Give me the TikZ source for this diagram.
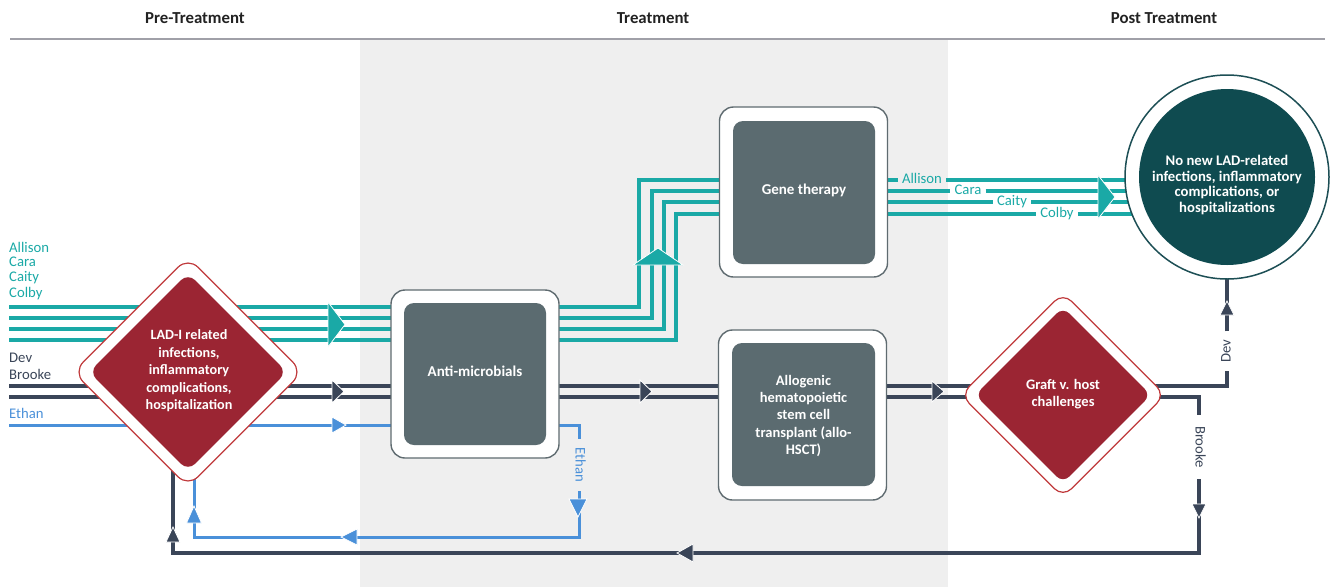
\documentclass[tikz,border=0pt]{standalone}
\usepackage{fontspec}
\setmainfont{Carlito}
\usetikzlibrary{shapes.geometric,calc}
\definecolor{tealc}{HTML}{1AA9A6}
\definecolor{navy}{HTML}{3A4558}
\definecolor{bluec}{HTML}{4A90D9}
\definecolor{slate}{HTML}{5B6B70}
\definecolor{boxedge}{HTML}{5F6B70}
\definecolor{redfill}{HTML}{9B2533}
\definecolor{rededge}{HTML}{C0393B}
\definecolor{bgc}{HTML}{EFEFEF}
\definecolor{circfill}{HTML}{0F4B50}
\definecolor{circedge}{HTML}{1D4F55}
\definecolor{hdrc}{HTML}{222222}
\definecolor{hdrline}{HTML}{A0A0A8}
\pgfdeclarelayer{bg}
\pgfdeclarelayer{ln}
\pgfsetlayers{bg,ln,main}
\begin{document}
\begin{tikzpicture}[x=1pt,y=-1pt,
  every node/.style={inner sep=0pt},
  tline/.style={draw=tealc,line width=3.2pt},
  dline/.style={draw=navy,line width=3.2pt},
  bline/.style={draw=bluec,line width=3pt},
  obox/.style={draw=boxedge,line width=1.4pt,fill=white,rounded corners=14pt,minimum width=168pt,minimum height=168pt},
  ibox/.style={fill=slate,rounded corners=10pt,minimum width=142pt,minimum height=142pt},
  wtext/.style={text=white,font=\bfseries\fontsize{14.5}{17.5}\selectfont,align=center},
  odiam/.style={diamond,aspect=1,draw=rededge,line width=1.2pt,fill=white},
  idiam/.style={diamond,aspect=1,fill=redfill},
  arr/.style={draw=white,line width=0.8pt},
  pname/.style={font=\fontsize{14.7}{16}\selectfont,anchor=west},
  lab/.style={font=\fontsize{14.7}{16}\selectfont,inner xsep=4pt,text height=10pt,text depth=3pt},
  hdr/.style={font=\bfseries\fontsize{16.8}{19}\selectfont,text=hdrc}
]
\useasboundingbox (0,0) rectangle (1333,587);
\begin{pgfonlayer}{bg}
\fill[bgc] (360,40) rectangle (948,587);
\end{pgfonlayer}
% headers
\coordinate (hl) at (10,39);
\coordinate (hr) at (1325,39);
\draw[hdrline,line width=1.2pt] (hl) -- (hr);
\node[hdr] (h1) at (195,18) {Pre-Treatment};
\node[hdr] (h2) at (653,18) {Treatment};
\node[hdr] (h3) at (1164,18) {Post Treatment};
% names
\node[pname,text=tealc] (nA) at (9,247) {Allison};
\node[pname,text=tealc] (nCa) at (9,262) {Cara};
\node[pname,text=tealc] (nCi) at (9,278) {Caity};
\node[pname,text=tealc] (nCo) at (9,294) {Colby};
\node[pname,text=navy] (nD) at (9,358) {Dev};
\node[pname,text=navy] (nB) at (9,374) {Brooke};
\node[pname,text=bluec] (nE) at (9,413) {Ethan};
% LAD diamond
\node[odiam,minimum width=230pt,minimum height=230pt,rounded corners=14pt] (lado) at (188,372) {};
\node[idiam,minimum width=198pt,minimum height=198pt,rounded corners=10pt] (ladi) at (188,372) {};
\node[wtext,font=\bfseries\fontsize{14.2}{17.5}\selectfont] (lad) at (189,371) {LAD-I related\\infections,\\inflammatory\\complications,\\hospitalization};
% Anti-microbials
\node[obox] (amo) at (475,374) {};
\node[ibox] (ami) at (475,374) {};
\node[wtext,font=\bfseries\fontsize{15}{17.5}\selectfont] (am) at (475,371) {Anti-microbials};
% Gene therapy
\node[obox,minimum height=170pt] (gto) at (803.5,192) {};
\node[ibox,minimum height=143pt] (gti) at (804,192.5) {};
\node[wtext,font=\bfseries\fontsize{15}{17.5}\selectfont] (gt) at (804,190) {Gene therapy};
% allo-HSCT
\node[obox,minimum height=170pt] (hso) at (802.5,415) {};
\node[ibox,minimum width=143pt,minimum height=143pt] (hsi) at (803.5,414.5) {};
\node[wtext,font=\bfseries\fontsize{14.5}{17.2}\selectfont] (hs) at (803.5,416) {Allogenic\\hematopoietic\\stem cell\\transplant (allo-\\HSCT)};
% GvH diamond
\node[odiam,minimum width=205pt,minimum height=205pt,rounded corners=12pt] (gvho) at (1063,395) {};
\node[idiam,minimum width=176pt,minimum height=176pt,rounded corners=9pt] (gvhi) at (1063,395) {};
\node[wtext,font=\bfseries\fontsize{14.5}{17}\selectfont] (gvh) at (1063,394.5) {Graft v. host\\challenges};
% outcome
\node[circle,draw=circedge,line width=1.5pt,fill=white,minimum size=204pt] (outo) at (1227,177) {};
\node[circle,fill=circfill,minimum size=176pt] (outi) at (1227,177) {};
\node[wtext,font=\bfseries\fontsize{14.7}{15.6}\selectfont] (out) at (1227,185) {No new LAD-related\\infections, inflammatory\\complications, or\\hospitalizations};
% line labels
\node[lab,text=tealc] (gA) at (922,180) {Allison};
\node[lab,text=tealc] (gCa) at (968,191) {Cara};
\node[lab,text=tealc] (gCi) at (1012,202) {Caity};
\node[lab,text=tealc] (gCo) at (1057,214) {Colby};
\node[lab,text=navy,rotate=90,inner xsep=8pt] (dev) at (1227,351) {Dev};
\node[lab,text=navy,rotate=-90,inner xsep=11pt] (brk) at (1199,447) {Brooke};
\node[lab,text=bluec,rotate=-90,inner xsep=9pt] (eth) at (579,465) {Ethan};
\coordinate (blc) at (173,553);
\coordinate (ebl) at (194,537);
\begin{pgfonlayer}{ln}
% teal
\foreach \y/\xs/\yt in {307/639/180,318/652/191,329/664/202,340/676/214}{
  \draw[tline] (nA.west |- 0,\y) -- (amo.center |- 0,\y);
  \draw[tline] (amo.center |- 0,\y) -- (\xs,\y) -- (\xs,\yt) -- (gto.center |- 0,\yt);
}
\draw[tline] (gto.center |- 0,180) -- (gA.west |- 0,180);
\draw[tline] (gA.east |- 0,180) -- (outo.center |- 0,180);
\draw[tline] (gto.center |- 0,191) -- (gCa.west |- 0,191);
\draw[tline] (gCa.east |- 0,191) -- (outo.center |- 0,191);
\draw[tline] (gto.center |- 0,202) -- (gCi.west |- 0,202);
\draw[tline] (gCi.east |- 0,202) -- (outo.center |- 0,202);
\draw[tline] (gto.center |- 0,214) -- (gCo.west |- 0,214);
\draw[tline] (gCo.east |- 0,214) -- (outo.center |- 0,214);
% dark
\foreach \y in {386,397}{
  \draw[dline] (nD.west |- 0,\y) -- (amo.center |- 0,\y);
  \draw[dline] (amo.center |- 0,\y) -- (hso.center |- 0,\y);
  \draw[dline] (hso.center |- 0,\y) -- (gvho.center |- 0,\y);
}
\draw[dline] (gvho.center |- 0,386) -- (dev.center |- 0,386) -- (dev.west);
\draw[dline] (dev.east) -- (dev.east |- outo.center);
\draw[dline] (gvho.center |- 0,397) -- (brk.center |- 0,397) -- (brk.west);
\draw[dline] (brk.east) -- (brk.center |- blc) -- (blc) -- (blc |- lado.center);
% blue
\draw[bline] (nE.west |- 0,425) -- (amo.center |- 0,425);
\draw[bline] (amo.center |- 0,425) -- (eth.center |- 0,425) -- (eth.west);
\draw[bline] (eth.east) -- (eth.center |- ebl) -- (ebl) -- (ebl |- lado.center);
\end{pgfonlayer}
% arrowheads
\path[arr,fill=tealc] (328,302) -- (345,324.5) -- (328,347) -- cycle;
\path[arr,fill=tealc] (633,265) -- (658,248) -- (683,265) -- cycle;
\path[arr,fill=tealc] (1098,175) -- (1115,197) -- (1098,219) -- cycle;
\path[arr,fill=navy] (332,380) -- (344,391.5) -- (332,403) -- cycle;
\path[arr,fill=navy] (640,380) -- (652,391.5) -- (640,403) -- cycle;
\path[arr,fill=navy] (932,381) -- (944,391.5) -- (932,402) -- cycle;
\path[arr,fill=bluec] (332,417) -- (346,425) -- (332,433) -- cycle;
\path[arr,fill=bluec] (569,499) -- (578,517) -- (587,499) -- cycle;
\path[arr,fill=bluec] (357,529) -- (341,537) -- (357,545) -- cycle;
\path[arr,fill=bluec] (186.5,523) -- (194,506) -- (201.5,523) -- cycle;
\path[arr,fill=navy] (166,542) -- (173,527) -- (180,542) -- cycle;
\path[arr,fill=navy] (693,544) -- (677,553) -- (693,562) -- cycle;
\path[arr,fill=navy] (1192,504) -- (1199,518) -- (1206,504) -- cycle;
\path[arr,fill=navy] (1220,315) -- (1227,301) -- (1234,315) -- cycle;
\end{tikzpicture}
\end{document}
